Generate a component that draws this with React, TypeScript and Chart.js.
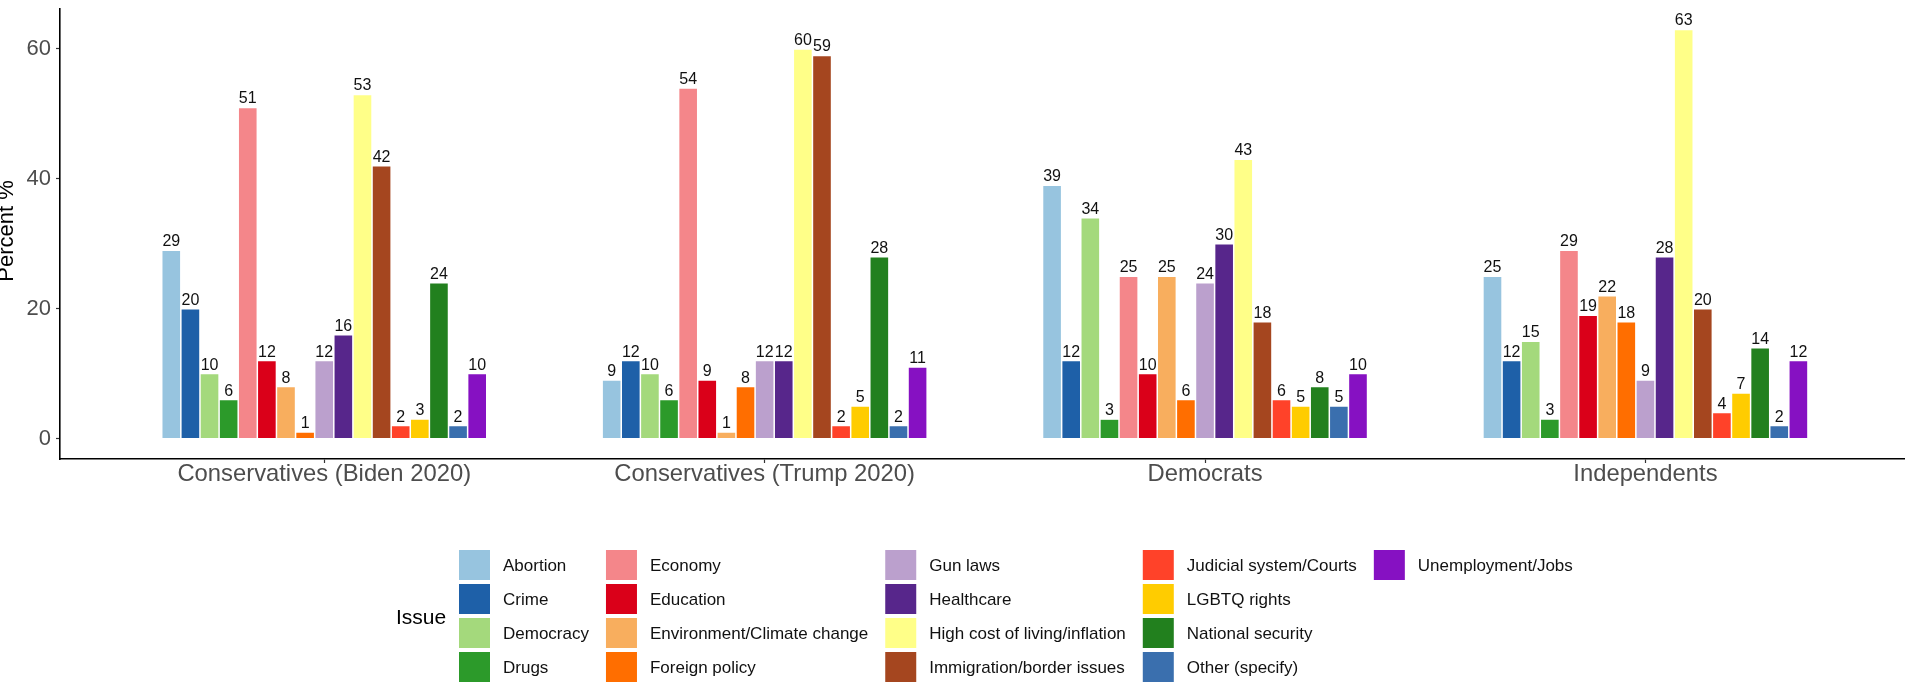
import React, { useEffect, useRef } from 'react';
import { Chart, registerables } from 'chart.js';

Chart.register(...registerables);

// ---------- data ----------
const categories = [
  'Conservatives (Biden 2020)',
  'Conservatives (Trump 2020)',
  'Democrats',
  'Independents',
];

const issueNames = [
  'Abortion',
  'Crime',
  'Democracy',
  'Drugs',
  'Economy',
  'Education',
  'Environment/Climate change',
  'Foreign policy',
  'Gun laws',
  'Healthcare',
  'High cost of living/inflation',
  'Immigration/border issues',
  'Judicial system/Courts',
  'LGBTQ rights',
  'National security',
  'Other (specify)',
  'Unemployment/Jobs',
];

const abortion = [29, 9, 39, 25];
const crime = [20, 12, 12, 12];
const democracy = [10, 10, 34, 15];
const drugs = [6, 6, 3, 3];
const economy = [51, 54, 25, 29];
const education = [12, 9, 10, 19];
const environment = [8, 1, 25, 22];
const foreignPolicy = [1, 8, 6, 18];
const gunLaws = [12, 12, 24, 9];
const healthcare = [16, 12, 30, 28];
const highCost = [53, 60, 43, 63];
const immigration = [42, 59, 18, 20];
const judicial = [2, 2, 6, 4];
const lgbtq = [3, 5, 5, 7];
const nationalSecurity = [24, 28, 8, 14];
const other = [2, 2, 5, 2];
const unemployment = [10, 11, 10, 12];

const seriesValues = [
  abortion, crime, democracy, drugs, economy, education, environment,
  foreignPolicy, gunLaws, healthcare, highCost, immigration, judicial,
  lgbtq, nationalSecurity, other, unemployment,
];

const issueColors = [
  '#97c4df', '#1e60a8', '#a4d97c', '#2c9a2a', '#f4868a', '#da0019',
  '#f8ae5e', '#ff6e00', '#bba0cd', '#57268b', '#ffff88', '#a5461f',
  '#ff4229', '#ffcc00', '#22801e', '#3a6fae', '#8611c2',
];

const yTickValues = [0, 20, 40, 60];
const yTitle = 'Percent %';
const legendTitle = 'Issue';

// ---------- layout constants ----------
const W = 1905;
const H = 682;
const FONT = '"Liberation Sans", Arial, Helvetica, sans-serif';
const PLOT_LEFT = 60;
const PLOT_TOP = 9;
const PLOT_BOTTOM = 459;
const Y_MIN = -3.15;
const Y_MAX = 66.15;
const X_MIN = -0.6;
const X_UNIT = 440.4;
const X_MAX = X_MIN + (W - PLOT_LEFT) / X_UNIT;

const valueLabelPlugin = {
  id: 'valueLabels',
  afterDatasetsDraw(chart: any) {
    const ctx = chart.ctx;
    ctx.save();
    ctx.font = `16px ${FONT}`;
    ctx.fillStyle = '#111';
    ctx.textAlign = 'center';
    ctx.textBaseline = 'alphabetic';
    chart.data.datasets.forEach((ds: any, i: number) => {
      const meta = chart.getDatasetMeta(i);
      meta.data.forEach((el: any, j: number) => {
        const v = ds.data[j].y;
        ctx.fillText(String(v), el.x, el.y - 4);
      });
    });
    ctx.restore();
  },
};

const yTitlePlugin = {
  id: 'yTitle',
  afterDraw(chart: any) {
    const ctx = chart.ctx;
    ctx.save();
    ctx.translate(13, 231);
    ctx.rotate(-Math.PI / 2);
    ctx.font = `22px ${FONT}`;
    ctx.fillStyle = '#000';
    ctx.textAlign = 'center';
    ctx.textBaseline = 'alphabetic';
    ctx.fillText(yTitle, 0, 0);
    ctx.restore();
  },
};

const legendPlugin = {
  id: 'gridLegend',
  afterDraw(chart: any) {
    const ctx = chart.ctx;
    const rows = 4;
    const keyW = 31;
    const keyH = 30;
    const rowPitch = 34;
    const firstRowCenter = 565;
    const textGap = 13;
    const colGap = 17;
    const startX = 459;
    ctx.save();
    ctx.font = `21px ${FONT}`;
    ctx.fillStyle = '#000';
    ctx.textAlign = 'left';
    ctx.textBaseline = 'middle';
    ctx.fillText(legendTitle, 396, 618);

    ctx.font = `17px ${FONT}`;
    const nCols = Math.ceil(issueNames.length / rows);
    let colX = startX;
    for (let c = 0; c < nCols; c++) {
      let maxW = 0;
      for (let r = 0; r < rows; r++) {
        const idx = c * rows + r;
        if (idx >= issueNames.length) break;
        const cy = firstRowCenter + r * rowPitch;
        ctx.fillStyle = issueColors[idx];
        ctx.fillRect(colX, cy - keyH / 2, keyW, keyH);
        ctx.fillStyle = '#111';
        ctx.fillText(issueNames[idx], colX + keyW + textGap, cy + 1);
        maxW = Math.max(maxW, ctx.measureText(issueNames[idx]).width);
      }
      colX += keyW + textGap + maxW + colGap;
    }
    ctx.restore();
  },
};

export default function App() {
  const canvasRef = useRef<HTMLCanvasElement | null>(null);

  useEffect(() => {
    const canvas = canvasRef.current;
    if (!canvas) return;
    const datasets = issueNames.map((name, i) => ({
      label: name,
      data: seriesValues[i].map((v, j) => ({ x: j, y: v })),
      backgroundColor: issueColors[i],
      borderColor: '#ffffff',
      borderWidth: 0.75,
      categoryPercentage: 0.738,
      barPercentage: 1,
    }));

    const chart = new Chart(canvas, {
      type: 'bar',
      data: { datasets },
      plugins: [valueLabelPlugin, yTitlePlugin, legendPlugin],
      options: {
        animation: false,
        responsive: false,
        devicePixelRatio: 1,
        layout: { padding: { top: PLOT_TOP, left: 0, right: 0, bottom: 0 } },
        plugins: {
          legend: { display: false },
          tooltip: { enabled: false },
          title: { display: false },
        },
        scales: {
          x: {
            type: 'linear',
            min: X_MIN,
            max: X_MAX,
            offset: false,
            afterBuildTicks: (axis: any) => {
              axis.ticks = categories.map((_, i) => ({ value: i }));
            },
            afterFit: (axis: any) => {
              axis.height = H - PLOT_BOTTOM;
              axis.paddingLeft = 0;
              axis.paddingRight = 0;
            },
            border: { display: true, color: '#000', width: 1.6 },
            grid: {
              display: true,
              offset: false,
              drawOnChartArea: false,
              drawTicks: true,
              tickLength: 4,
              tickColor: '#333',
              tickWidth: 1.2,
            },
            ticks: {
              autoSkip: false,
              maxRotation: 0,
              minRotation: 0,
              padding: 0,
              color: '#4d4d4d',
              font: { family: FONT, size: 23.8, lineHeight: 1 },
              callback: (value: any) => categories[Math.round(Number(value))] ?? '',
            },
          },
          y: {
            type: 'linear',
            min: Y_MIN,
            max: Y_MAX,
            afterBuildTicks: (axis: any) => {
              axis.ticks = yTickValues.map((v) => ({ value: v }));
            },
            afterFit: (axis: any) => {
              axis.width = PLOT_LEFT;
              axis.paddingTop = 0;
              axis.paddingBottom = 0;
            },
            border: { display: true, color: '#000', width: 1.6 },
            grid: {
              display: true,
              offset: false,
              drawOnChartArea: false,
              drawTicks: true,
              tickLength: 4,
              tickColor: '#333',
              tickWidth: 1.2,
            },
            ticks: {
              padding: 5,
              color: '#4d4d4d',
              font: { family: FONT, size: 22 },
              callback: (value: any) => String(value),
            },
          },
        },
      } as any,
    });

    return () => {
      chart.destroy();
    };
  }, []);

  return (
    <div
      style={{
        position: 'fixed',
        left: 0,
        top: 0,
        width: W,
        height: H,
        overflow: 'hidden',
        background: '#fff',
      }}
    >
      <canvas ref={canvasRef} width={W} height={H} style={{ display: 'block', width: W, height: H }} />
    </div>
  );
}
